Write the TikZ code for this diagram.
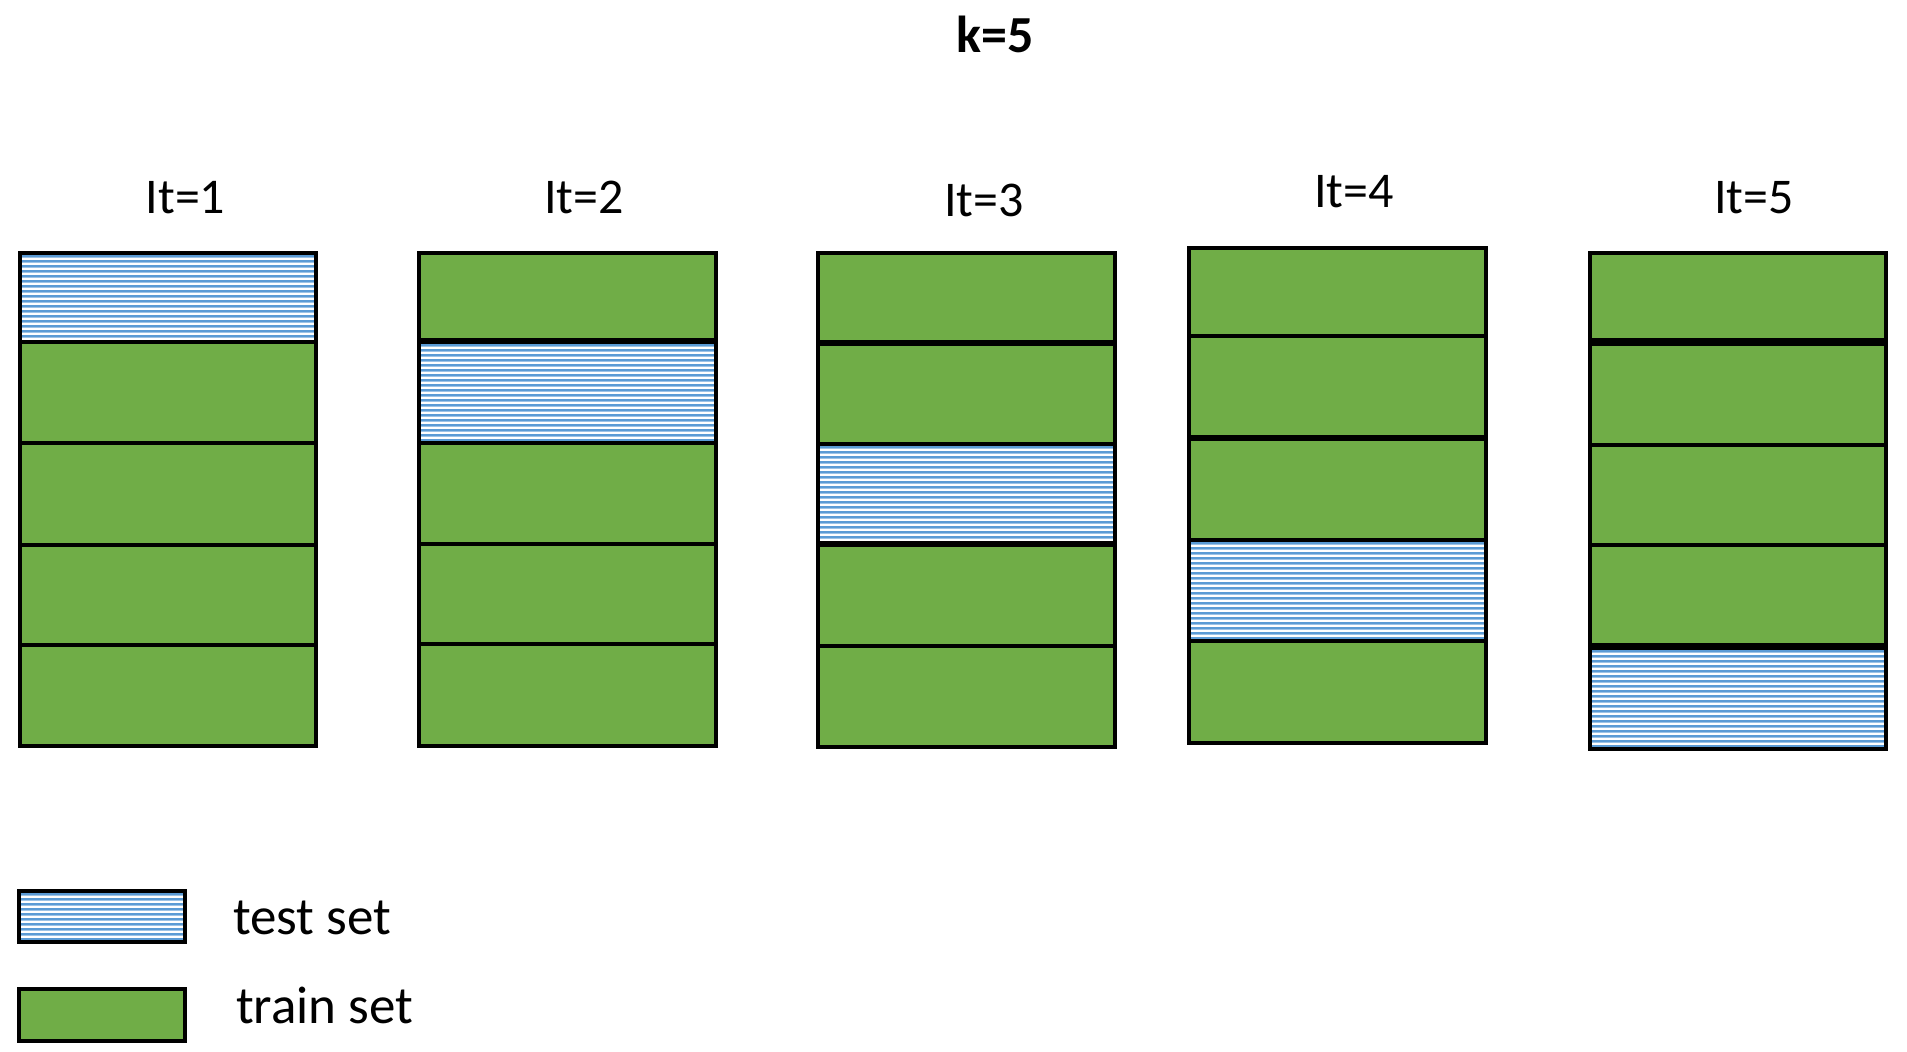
\documentclass[tikz,border=0pt]{standalone}
\usepackage{fontspec}
\setmainfont{Carlito}
\definecolor{traingreen}{HTML}{70AD47}
\definecolor{stripeblue}{HTML}{5B9BD5}
\definecolor{stripelight}{HTML}{9DC3E6}
\tikzset{
  cellbox/.style={draw=black, line width=4bp},
  lbl/.style={inner sep=0pt, anchor=base, font=\fontsize{50bp}{60bp}\selectfont},
  legtxt/.style={inner sep=0pt, anchor=base west, font=\fontsize{53bp}{63bp}\selectfont},
  titletxt/.style={inner sep=0pt, anchor=base, font=\bfseries\fontsize{52bp}{62bp}\selectfont}
}
% x1 x2 y1 y2
\newcommand{\trcell}[4]{\filldraw[cellbox, fill=traingreen] (#1,#3) rectangle (#2,#4);}
\newcommand{\tscell}[4]{%
  \begin{scope}
    \clip (#1,#3) rectangle (#2,#4);
    \fill[white] (#1,#3) rectangle (#2,#4);
    \foreach \k in {0,...,21}{%
      \fill[stripeblue] (#1,#3+2+\k*5) rectangle (#2,#3+4.3+\k*5);
      \fill[stripelight] (#1,#3+4.3+\k*5) rectangle (#2,#3+5.2+\k*5);}
  \end{scope}
  \draw[cellbox] (#1,#3) rectangle (#2,#4);}
\begin{document}
\begin{tikzpicture}[x=1bp, y=-1bp]
\useasboundingbox (0,0) rectangle (1907,1051);
% title
\node[titletxt] (title) at (995,52) {k=5};
% iteration labels
\node[lbl] (it1) at (185.5,213) {It=1};
\node[lbl] (it2) at (584,213) {It=2};
\node[lbl] (it3) at (984,216) {It=3};
\node[lbl] (it4) at (1354,207) {It=4};
\node[lbl] (it5) at (1754,213) {It=5};
% column 1
\tscell{20}{316}{253}{342}
\trcell{20}{316}{342}{443}
\trcell{20}{316}{443}{544.5}
\trcell{20}{316}{544.5}{645}
\trcell{20}{316}{645}{745.5}
% column 2
\trcell{419}{715.5}{253}{340}
\tscell{419}{715.5}{341.5}{442.5}
\trcell{419}{715.5}{442.5}{543.5}
\trcell{419}{715.5}{543.5}{644}
\trcell{419}{715.5}{644}{745.5}
% column 3
\trcell{818}{1114.5}{253}{341.5}
\trcell{818}{1114.5}{343.5}{444}
\tscell{818}{1114.5}{444}{543}
\trcell{818}{1114.5}{545}{646}
\trcell{818}{1114.5}{646}{746.5}
% column 4
\trcell{1189}{1486}{248}{336}
\trcell{1189}{1486}{336}{437}
\trcell{1189}{1486}{439}{540}
\tscell{1189}{1486}{540}{640.5}
\trcell{1189}{1486}{640.5}{743}
% column 5
\trcell{1589.5}{1885.5}{253}{340}
\trcell{1589.5}{1885.5}{343.5}{444.6}
\trcell{1589.5}{1885.5}{444.6}{545}
\trcell{1589.5}{1885.5}{545}{645}
\tscell{1589.5}{1885.5}{648}{748.5}
% legend
\tscell{19}{185}{891}{942}
\trcell{19}{185}{989}{1041}
\node[legtxt] (legtest) at (233,934) {test set};
\node[legtxt] (legtrain) at (236,1023) {train set};
\end{tikzpicture}
\end{document}
